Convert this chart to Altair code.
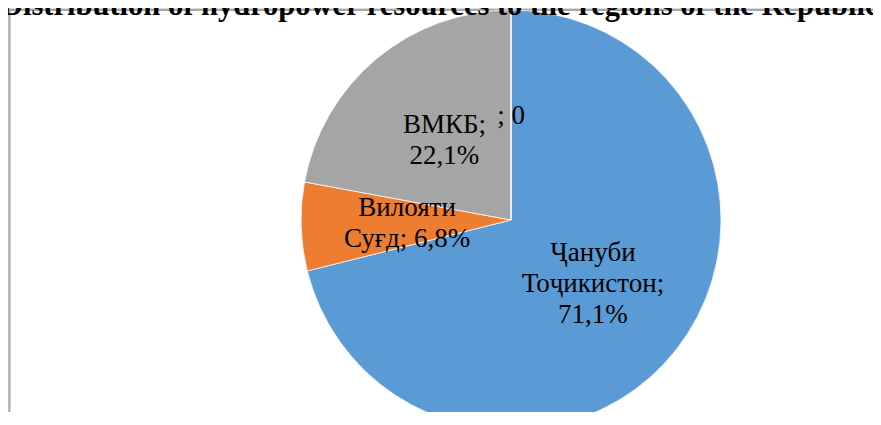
import altair as alt
import pandas as pd

# ---- data ----
categories = ["Ҷануби Тоҷикистон", "Вилояти Суғд", "ВМКБ", ""]
values = [71.1, 6.8, 22.1, 0.0]
labels = ["Ҷануби\nТоҷикистон;\n71,1%", "Вилояти\nСуғд; 6,8%", "ВМКБ;\n22,1%", "; 0"]
colors = ["#5B9BD5", "#ED7D31", "#A5A5A5", "#FFC000"]
title_text = "Distribution of hydropower resources to the regions of the Republic"

df = pd.DataFrame({
    "category": categories,
    "value": values,
    "label": labels,
    "idx": list(range(len(categories))),
})

CX, CY, R = 503, 212, 210
FONT = "Liberation Serif"
FS = 27
LH = 31

color_scale = alt.Scale(domain=categories, range=colors)

arcs = alt.Chart(df).mark_arc(outerRadius=R, stroke="white", strokeWidth=0.75).encode(
    theta=alt.Theta("value:Q", stack=True),
    order=alt.Order("idx:Q", sort="ascending"),
    x=alt.value(CX),
    y=alt.value(CY),
    color=alt.Color("category:N", scale=color_scale, legend=None),
)

# label anchor = middle angle of each slice (explicit stack so each label block can be centred)
lab_base = alt.Chart(df).transform_stack(
    stack="value", groupby=[], as_=["v0", "v1"], sort=[alt.SortField("idx", order="ascending")]
).transform_joinaggregate(total="sum(value)").transform_calculate(
    mid="((datum.v0 + datum.v1) / 2) / datum.total",
    nlines="split(datum.label, '\\n').length",
)


def label_layer(n):
    return lab_base.transform_filter(f"datum.nlines == {n}").mark_text(
        radius=104, font=FONT, fontSize=FS, lineBreak="\n", lineHeight=LH,
        align="center", baseline="middle", color="black", dy=-(n - 1) * LH / 2,
    ).encode(
        theta=alt.Theta("mid:Q", scale=alt.Scale(domain=[0, 1]), stack=None),
        x=alt.value(CX),
        y=alt.value(CY),
        text="label:N",
    )


labels_layer = alt.layer(label_layer(1), label_layer(2), label_layer(3))

one = pd.DataFrame({"a": [0]})
frame_left = alt.Chart(one).mark_rule(color="#A8A8A8", strokeWidth=2).encode(
    x=alt.value(1.5), y=alt.value(2), y2=alt.value(430)
)
frame_top = alt.Chart(one).mark_rule(color="#A8A8A8", strokeWidth=2).encode(
    x=alt.value(1), x2=alt.value(880), y=alt.value(2)
)
title = alt.Chart(one).mark_text(
    font=FONT, fontSize=30.5, fontWeight="bold", align="left",
    baseline="alphabetic", color="black",
).encode(x=alt.value(-7), y=alt.value(7), text=alt.value(title_text))

chart = alt.layer(
    frame_left, frame_top, arcs, labels_layer, title
).resolve_scale(theta="independent").properties(
    width=865, height=404,
    autosize=alt.AutoSizeParams(type="none"),
    padding=0,
).configure_view(stroke=None).configure(background="white")

chart.save("out.html", embed_options={"renderer": "svg", "actions": False})
